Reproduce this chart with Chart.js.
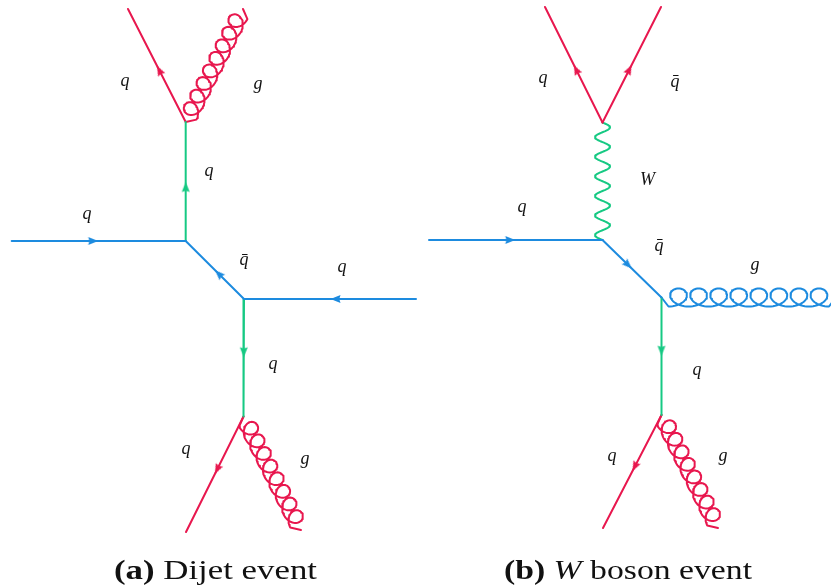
<!DOCTYPE html>
<html>
<head>
<meta charset="utf-8">
<script src="https://cdn.jsdelivr.net/npm/chart.js@4.4.1/dist/chart.umd.min.js"></script>
<style>
  html, body { margin: 0; padding: 0; background: #ffffff; }
  #wrap { width: 831px; height: 585px; position: relative; }
</style>
</head>
<body>
<div id="wrap"><canvas id="diagram"></canvas></div>
<script>
// Diagram coordinates: x to the right, y downward (drawing units).
// Every line is listed in the direction of fermion flow: [x1, y1, x2, y2].

// Incoming partons (blue)
const incomingQuarks = [
  [11.7, 241, 185.7, 241],
  [244, 299, 185.7, 241],
  [416, 299, 244, 299],
  [429, 240, 602.5, 240],
  [602.5, 240, 661.5, 297.5]
];
// Internal quark propagators (green)
const propagators = [
  [185.7, 241, 185.7, 122],
  [244, 299, 243.5, 416.5],
  [661.5, 297.5, 661.5, 415]
];
// Outgoing quarks (red)
const outgoingQuarks = [
  [185.7, 122, 128, 9],
  [243.5, 416.5, 186, 532],
  [602.5, 122.5, 545, 7],
  [602.5, 122.5, 661, 7],
  [661.5, 415, 603, 528]
];
// Gluons: [x1, y1, x2, y2, number of curls]
const outgoingGluons = [
  [185.7, 122, 243, 9, 8],
  [243.5, 416.5, 301, 530, 8],
  [661.5, 415, 718, 528, 8]
];
const radiatedGluons = [
  [661.5, 297.5, 836, 297.5, 8]
];
// W boson: [x1, y1, x2, y2, number of wiggles]
const wBosons = [
  [602.5, 122.5, 602.5, 240, 6]
];

// Particle labels
const labelText = ['q', 'g', 'q', 'q', 'q\u0304', 'q', 'q', 'q', 'g',
                   'q', 'q\u0304', 'W', 'q', 'q\u0304', 'g', 'q', 'q', 'g'];
const labelX = [125, 258, 209, 87, 244, 342, 273, 186, 305,
                543, 675, 649, 522, 659, 755, 697, 612, 723];
const labelY = [83, 86, 173, 216, 261.5, 269, 366, 451, 461,
                80, 83, 178, 209, 247, 267, 372, 458, 458];

// Sub-figure captions: [text, style] runs
const captionRuns = [
  [['(a)', 'bold'], [' Dijet event', 'normal']],
  [['(b)', 'bold'], [' ', 'normal'], ['W', 'italic'], [' boson event', 'normal']]
];
const captionCenter = [215.5, 628];
const captionWidth = [203, 248];

const RED = '#e8174e';
const BLUE = '#1d8bdf';
const GREEN = '#16c983';
const LINE_W = 2;

// ---- path helpers -------------------------------------------------------
function straight(seg) {
  return [{ x: seg[0], y: seg[1] }, { x: seg[2], y: seg[3] }];
}

// Gluon curl: prolate trochoid running along the segment.
// rs = radius along the line, rp = radius across it.
function coil(rs, rp) {
  return seg => {
    const [x1, y1, x2, y2, loops] = seg;
    const dx = x2 - x1, dy = y2 - y1, L = Math.hypot(dx, dy);
    const ux = dx / L, uy = dy / L, nx = -uy, ny = ux;
    const lead = 7, tail = 7;
    const pitch = (L - lead - tail) / loops;
    const c = pitch / (2 * Math.PI);
    const pts = [{ x: x1, y: y1 }];
    const steps = loops * 48;
    for (let i = 0; i <= steps; i++) {
      const t = (i / steps) * loops * 2 * Math.PI;
      const s = lead + c * t + rs * Math.sin(t);
      const p = rp * Math.cos(t);
      pts.push({ x: x1 + ux * s + nx * p, y: y1 + uy * s + ny * p });
    }
    pts.push({ x: x2, y: y2 });
    return pts;
  };
}

// Boson wiggle: sine wave along the segment
function wiggle(seg) {
  const [x1, y1, x2, y2, periods] = seg;
  const dx = x2 - x1, dy = y2 - y1, L = Math.hypot(dx, dy);
  const ux = dx / L, uy = dy / L, nx = -uy, ny = ux;
  const amp = 7.5;
  const pts = [];
  const steps = periods * 32;
  for (let i = 0; i <= steps; i++) {
    const t = i / steps;
    const s = t * L;
    const p = -amp * Math.sin(2 * Math.PI * periods * t);
    pts.push({ x: x1 + ux * s + nx * p, y: y1 + uy * s + ny * p });
  }
  return pts;
}

// Arrowhead sprite pointing up, centred in its canvas
function arrowSprite(color) {
  const cv = document.createElement('canvas');
  cv.width = 16; cv.height = 16;
  const g = cv.getContext('2d');
  g.translate(8, 8);
  g.fillStyle = color;
  g.beginPath();
  g.moveTo(0, -5.5);
  g.lineTo(4, 4.5);
  g.lineTo(0, 3.3);
  g.lineTo(-4, 4.5);
  g.closePath();
  g.fill();
  return cv;
}

function arrowData(lines) {
  return lines.map(s => {
    const dx = s[2] - s[0], dy = s[3] - s[1], L = Math.hypot(dx, dy);
    const ux = dx / L, uy = dy / L;
    return { x: (s[0] + s[2]) / 2 - 6 * ux, y: (s[1] + s[3]) / 2 - 6 * uy };
  });
}
function arrowAngles(lines) {
  return lines.map(s => Math.atan2(s[2] - s[0], -(s[3] - s[1])) * 180 / Math.PI);
}

// ---- datasets -----------------------------------------------------------
const datasets = [];
function addLines(list, color, builder) {
  list.forEach(seg => datasets.push({
    data: builder(seg),
    showLine: true,
    borderColor: color,
    borderWidth: LINE_W,
    pointRadius: 0,
    tension: 0,
    fill: false,
    borderCapStyle: 'round',
    borderJoinStyle: 'round'
  }));
}
addLines(incomingQuarks, BLUE, straight);
addLines(propagators, GREEN, straight);
addLines(outgoingQuarks, RED, straight);
addLines(outgoingGluons, RED, coil(9.5, 8.5));
addLines(radiatedGluons, BLUE, coil(13, 9));
addLines(wBosons, GREEN, wiggle);

[[incomingQuarks, BLUE], [propagators, GREEN], [outgoingQuarks, RED]].forEach(([list, color]) => {
  datasets.push({
    data: arrowData(list),
    showLine: false,
    pointStyle: arrowSprite(color),
    pointRadius: 4,
    pointRotation: arrowAngles(list)
  });
});

// ---- text ---------------------------------------------------------------
const SERIF = '"Liberation Serif", "Times New Roman", serif';
const textPlugin = {
  id: 'diagramText',
  afterDatasetsDraw(chart) {
    const { ctx, scales } = chart;
    const xs = scales.x, ys = scales.y;
    ctx.save();
    ctx.fillStyle = '#111111';
    ctx.textAlign = 'left';
    ctx.textBaseline = 'alphabetic';
    // particle labels centred on their anchor
    labelText.forEach((t, i) => {
      ctx.font = 'italic 18px ' + SERIF;
      const m = ctx.measureText(t);
      const cx = xs.getPixelForValue(labelX[i]);
      const cy = ys.getPixelForValue(labelY[i]);
      const x = cx - (m.actualBoundingBoxRight - m.actualBoundingBoxLeft) / 2;
      const y = cy + (m.actualBoundingBoxAscent - m.actualBoundingBoxDescent) / 2;
      ctx.fillText(t, x, y);
    });
    // captions, widened to the wide book-face proportions
    captionRuns.forEach((runs, i) => {
      const fontFor = st => (st === 'bold' ? 'bold ' : st === 'italic' ? 'italic ' : '') + '27px ' + SERIF;
      let total = 0;
      runs.forEach(([t, st]) => { ctx.font = fontFor(st); total += ctx.measureText(t).width; });
      const sx = captionWidth[i] / total;
      const left = xs.getPixelForValue(captionCenter[i]) - captionWidth[i] / 2;
      const y = ys.getPixelForValue(579);
      ctx.save();
      ctx.translate(left, y);
      ctx.scale(sx, 1);
      let x = 0;
      runs.forEach(([t, st]) => {
        ctx.font = fontFor(st);
        ctx.fillText(t, x, 0);
        x += ctx.measureText(t).width;
      });
      ctx.restore();
    });
    ctx.restore();
  }
};

new Chart(document.getElementById('diagram'), {
  type: 'scatter',
  data: { datasets },
  options: {
    responsive: true,
    maintainAspectRatio: false,
    animation: false,
    events: [],
    layout: { padding: 0, autoPadding: false },
    plugins: { legend: { display: false }, tooltip: { enabled: false } },
    scales: {
      x: { type: 'linear', min: 0, max: 831, display: false },
      y: { type: 'linear', min: 0, max: 585, reverse: true, display: false }
    }
  },
  plugins: [textPlugin]
});
</script>
</body>
</html>
